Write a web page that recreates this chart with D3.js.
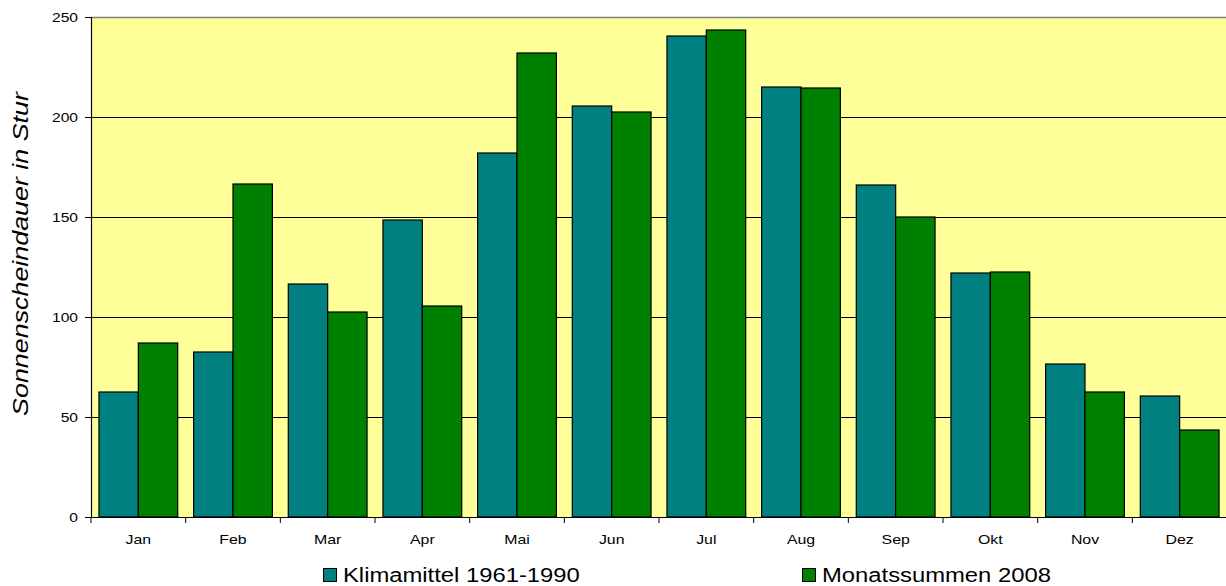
<!DOCTYPE html>
<html><head><meta charset="utf-8">
<script src="https://cdn.jsdelivr.net/npm/d3@7"></script>
<style>body{margin:0;background:#fff;font-family:"Liberation Sans",Arial,sans-serif;}</style>
</head><body>
<svg id="c" width="1226" height="586"></svg>
<script>
const months = ["Jan","Feb","Mar","Apr","Mai","Jun","Jul","Aug","Sep","Okt","Nov","Dez"];
const seriesNames = ["Klimamittel 1961-1990","Monatssummen 2008"];
const klima = [62.5,82.5,116.5,148.5,182,205.5,240.5,215,166,122,76.5,60.5];
const monat2008 = [87,166.5,102.5,105.5,232,202.5,243.5,214.5,150,122.5,62.5,43.5];
const yTicks = [0,50,100,150,200,250];
const colors = ["#008080","#008000"];

const svg = d3.select("#c");
const L = 91, R = 1227, T = 17, B = 517;
const x = d3.scaleBand().domain(months).range([L,R]).paddingInner(0.168).paddingOuter(0.084);
const xs = d3.scaleBand().domain([0,1]).range([0,x.bandwidth()]);
const y = d3.scaleLinear().domain([0,250]).range([B,T]);

function stretch(sel, k){
  sel.each(function(){
    const len = this.getComputedTextLength();
    d3.select(this).attr("textLength", len*k).attr("lengthAdjust","spacingAndGlyphs");
  });
}

svg.append("rect").attr("x",L).attr("y",T).attr("width",R-L).attr("height",B-T).attr("fill","#FFFF99");
svg.append("line").attr("x1",L).attr("x2",R).attr("y1",T+0.5).attr("y2",T+0.5).attr("stroke","#808080").attr("stroke-width",1.5);
svg.selectAll(".grid").data(yTicks.filter(d=>d>0&&d<250)).enter().append("line")
  .attr("x1",L).attr("x2",R).attr("y1",d=>Math.round(y(d))+0.5).attr("y2",d=>Math.round(y(d))+0.5)
  .attr("stroke","#000").attr("stroke-width",1);

const data = [klima, monat2008];
data.forEach((vals,si)=>{
  svg.selectAll(".b"+si).data(vals).enter().append("rect")
    .attr("x",(d,i)=>x(months[i])+xs(si))
    .attr("y",d=>y(d))
    .attr("width",xs.bandwidth())
    .attr("height",d=>B-y(d))
    .attr("fill",colors[si]).attr("stroke","#000").attr("stroke-width",1.2);
});

// y axis
const yAx = svg.append("g").attr("transform",`translate(${L},0)`)
  .call(d3.axisLeft(y).tickValues(yTicks).tickSize(6).tickPadding(7));
yAx.select(".domain").attr("stroke","#000").attr("stroke-width",1.2);
yAx.selectAll("text").attr("font-size",13).attr("font-family","Liberation Sans, Arial").attr("fill","#000");
stretch(yAx.selectAll("text"),1.2);
// x axis with ticks at category boundaries
const xAx = svg.append("g").attr("transform",`translate(0,${B})`)
  .call(d3.axisBottom(x).tickSize(0).tickPadding(18));
xAx.select(".domain").attr("stroke","#000").attr("stroke-width",1.2);
xAx.selectAll("text").attr("font-size",13).attr("font-family","Liberation Sans, Arial").attr("fill","#000");
stretch(xAx.selectAll("text"),1.22);
const step = x.step();
svg.selectAll(".xt").data(d3.range(13)).enter().append("line")
  .attr("x1",i=>L+i*step).attr("x2",i=>L+i*step).attr("y1",B).attr("y2",B+6).attr("stroke","#000");

const yl = svg.append("text").attr("transform","translate(28,254) rotate(-90)").attr("text-anchor","middle")
  .attr("font-size",22).attr("font-style","italic").attr("font-family","Liberation Sans, Arial")
  .text("Sonnenscheindauer in Stur");
stretch(yl,1.22);

// legend
const legX = [323,802];
seriesNames.forEach((n,i)=>{
  svg.append("rect").attr("x",legX[i]+0.5).attr("y",568.5).attr("width",13).attr("height",13)
    .attr("fill",colors[i]).attr("stroke","#000").attr("stroke-width",1);
  const t = svg.append("text").attr("x",legX[i]+20).attr("y",582).attr("font-size",20)
    .attr("font-family","Liberation Sans, Arial").text(n);
  stretch(t,1.19);
});
</script>
</body></html>
